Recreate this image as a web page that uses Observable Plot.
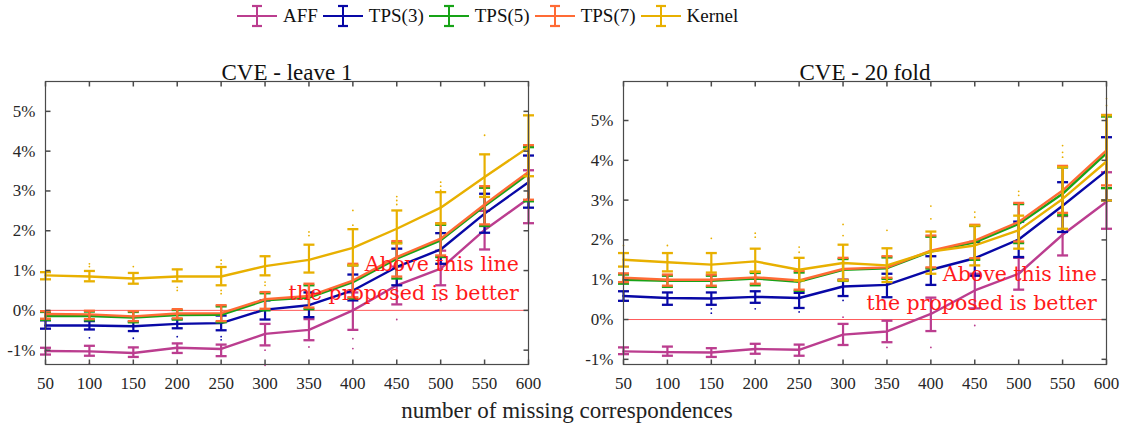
<!DOCTYPE html>
<html>
<head>
<meta charset="utf-8">
<script src="https://cdn.jsdelivr.net/npm/d3@7"></script>
<script src="https://cdn.jsdelivr.net/npm/@observablehq/plot@0.6"></script>
<style>
  body { margin: 0; background: #fff; }
  #chart { position: relative; width: 1128px; height: 434px; font-family: "Liberation Serif", "Times New Roman", serif; color: #111; overflow: hidden; background: #fff; }
  #chart svg { font-family: "Liberation Serif", "Times New Roman", serif; }
  #legend { position: absolute; left: 237px; top: 4px; display: flex; align-items: center; height: 24px; z-index: 2; }
  #legend .item { display: flex; align-items: center; margin-right: 5px; }
  #legend svg { display: block; margin-right: 6px; }
  #legend span { font-size: 19px; line-height: 24px; }
  .panel { position: absolute; top: 0; }
  #xlabel { position: absolute; left: 0; width: 1134px; top: 398px; text-align: center; font-size: 23px; line-height: 26px; color: #222; z-index: 2; }
</style>
</head>
<body>
<div id="chart">
  <div id="legend"></div>
  <div class="panel" id="left" style="left:0px"></div>
  <div class="panel" id="right" style="left:578px"></div>
  <div id="xlabel">number of missing correspondences</div>
</div>
<script>
// Number of missing correspondences (x axis)
const missing = [50, 100, 150, 200, 250, 300, 350, 400, 450, 500, 550, 600];
const seriesNames = ["AFF", "TPS(3)", "TPS(5)", "TPS(7)", "Kernel"];
const seriesColors = ["#bb3d8f", "#0808a6", "#17a317", "#ff6b35", "#e8b000"];
const yTicks = [-1, 0, 1, 2, 3, 4, 5];

// CVE - leave 1: central value and whisker ends (percent)
const leave1AFF    = [-1.02, -1.03, -1.07, -0.94, -0.97, -0.59, -0.49, 0.00, 0.63, 1.05, 2.02, 2.81];
const leave1AFFLo  = [-1.11, -1.14, -1.17, -1.07, -1.15, -0.88, -0.75, -0.49, 0.15, 0.63, 1.53, 2.19];
const leave1AFFHi  = [-0.94, -0.89, -0.93, -0.83, -0.86, -0.34, -0.22, 0.45, 1.10, 1.50, 2.50, 3.52];
const leave1TPS3   = [-0.38, -0.38, -0.40, -0.34, -0.32, 0.02, 0.13, 0.50, 1.09, 1.53, 2.43, 3.22];
const leave1TPS3Lo = [-0.46, -0.48, -0.52, -0.45, -0.50, -0.23, -0.17, 0.25, 0.63, 1.17, 1.95, 2.58];
const leave1TPS3Hi = [-0.25, -0.27, -0.28, -0.22, -0.13, 0.25, 0.45, 0.90, 1.55, 1.94, 2.93, 3.89];
const leave1TPS5   = [-0.14, -0.14, -0.18, -0.12, -0.11, 0.25, 0.32, 0.71, 1.30, 1.76, 2.62, 3.43];
const leave1TPS5Lo = [-0.24, -0.25, -0.30, -0.23, -0.30, 0.00, 0.03, 0.30, 0.80, 1.34, 2.12, 2.74];
const leave1TPS5Hi = [-0.04, -0.03, -0.04, 0.01, 0.10, 0.43, 0.63, 1.13, 1.70, 2.15, 3.08, 4.10];
const leave1TPS7   = [-0.09, -0.10, -0.15, -0.08, -0.07, 0.28, 0.36, 0.75, 1.34, 1.80, 2.66, 3.48];
const leave1TPS7Lo = [-0.21, -0.22, -0.27, -0.20, -0.27, 0.04, 0.07, 0.33, 0.85, 1.38, 2.16, 2.78];
const leave1TPS7Hi = [-0.02, -0.01, -0.02, 0.03, 0.13, 0.46, 0.67, 1.17, 1.74, 2.19, 3.12, 4.15];
const leave1Kernel   = [0.88, 0.85, 0.80, 0.85, 0.85, 1.11, 1.27, 1.57, 2.05, 2.58, 3.35, 4.10];
const leave1KernelLo = [0.78, 0.73, 0.67, 0.73, 0.63, 0.88, 0.95, 1.13, 1.68, 2.18, 2.85, 3.37];
const leave1KernelHi = [0.96, 0.99, 0.94, 1.03, 1.09, 1.36, 1.65, 2.04, 2.51, 2.97, 3.92, 4.90];

// CVE - leave 1: outlying runs
const leave1OutX      = [100, 100, 150, 200, 200, 250, 250, 250, 250, 300, 300, 350, 350, 400, 400, 450, 450, 450, 500, 500, 500, 550,
                         100, 150, 200, 250, 250, 100, 300, 300, 350, 400, 400, 450, 500];
const leave1OutY      = [1.17, 1.10, 1.10, 0.58, 0.50, 1.26, 1.17, 0.50, 0.42, 0.71, 0.63, 1.97, 1.88, 2.51, 2.14, 2.86, 2.76, 2.66, 3.22, 3.12, 3.02, 4.40,
                         -0.69, -0.70, -0.66, -0.66, -0.74, -1.34, -1.00, -1.38, -0.92, -0.71, -0.96, -0.23, 0.25];
const leave1OutSeries = ["Kernel", "Kernel", "Kernel", "Kernel", "Kernel", "Kernel", "Kernel", "Kernel", "Kernel", "Kernel", "Kernel", "Kernel", "Kernel", "Kernel", "Kernel", "Kernel", "Kernel", "Kernel", "Kernel", "Kernel", "Kernel", "Kernel",
                         "TPS(3)", "TPS(3)", "TPS(3)", "TPS(3)", "TPS(3)", "AFF", "AFF", "AFF", "AFF", "AFF", "AFF", "AFF", "AFF"];

// CVE - 20 fold: central value and whisker ends (percent)
const fold20AFF    = [-0.80, -0.82, -0.83, -0.74, -0.76, -0.38, -0.30, 0.14, 0.73, 1.15, 2.13, 2.96];
const fold20AFFLo  = [-0.87, -0.91, -0.94, -0.86, -0.91, -0.64, -0.57, -0.29, 0.28, 0.75, 1.61, 2.28];
const fold20AFFHi  = [-0.70, -0.68, -0.72, -0.61, -0.63, -0.11, -0.03, 0.55, 1.15, 1.55, 2.60, 3.70];
const fold20TPS3   = [0.59, 0.54, 0.53, 0.57, 0.54, 0.83, 0.87, 1.25, 1.54, 2.01, 2.86, 3.74];
const fold20TPS3Lo = [0.47, 0.37, 0.37, 0.42, 0.29, 0.59, 0.56, 0.87, 1.10, 1.57, 2.20, 2.99];
const fold20TPS3Hi = [0.71, 0.68, 0.68, 0.71, 0.67, 1.00, 1.15, 1.59, 1.95, 2.46, 3.45, 4.58];
const fold20TPS5   = [1.00, 0.97, 0.97, 1.03, 0.95, 1.25, 1.29, 1.71, 1.94, 2.40, 3.16, 4.18];
const fold20TPS5Lo = [0.90, 0.82, 0.82, 0.86, 0.72, 0.97, 1.02, 1.28, 1.50, 1.92, 2.62, 3.30];
const fold20TPS5Hi = [1.13, 1.10, 1.10, 1.17, 1.18, 1.52, 1.56, 2.08, 2.35, 2.90, 3.82, 5.10];
const fold20TPS7   = [1.05, 1.00, 1.00, 1.06, 0.98, 1.27, 1.31, 1.73, 1.98, 2.45, 3.24, 4.25];
const fold20TPS7Lo = [0.94, 0.85, 0.85, 0.90, 0.75, 1.00, 1.05, 1.31, 1.54, 1.96, 2.68, 3.37];
const fold20TPS7Hi = [1.16, 1.13, 1.13, 1.20, 1.22, 1.55, 1.59, 2.11, 2.38, 2.93, 3.86, 5.14];
const fold20Kernel   = [1.50, 1.44, 1.38, 1.46, 1.25, 1.42, 1.36, 1.71, 1.86, 2.24, 3.03, 3.97];
const fold20KernelLo = [1.33, 1.21, 1.18, 1.20, 0.98, 0.98, 0.94, 1.15, 1.36, 1.78, 2.28, 2.99];
const fold20KernelHi = [1.67, 1.67, 1.67, 1.78, 1.55, 1.88, 1.79, 2.21, 2.36, 2.61, 3.83, 5.13];

// CVE - 20 fold: outlying runs
const fold20OutX      = [50, 100, 150, 200, 200, 250, 250, 300, 300, 350, 400, 400, 450, 450, 500, 500, 550, 550, 550, 600, 600,
                         150, 150, 200, 250, 300, 300, 350, 400, 450];
const fold20OutY      = [1.86, 1.86, 2.04, 2.17, 2.07, 1.82, 1.69, 2.39, 2.11, 2.24, 2.85, 2.53, 2.70, 2.57, 3.22, 3.12, 4.37, 4.20, 4.08, 5.55, 5.38,
                         0.27, 0.16, 0.27, 0.19, 0.48, 0.06, -0.70, -0.70, -0.15];
const fold20OutSeries = ["Kernel", "Kernel", "Kernel", "Kernel", "Kernel", "Kernel", "Kernel", "Kernel", "Kernel", "Kernel", "Kernel", "Kernel", "Kernel", "Kernel", "Kernel", "Kernel", "Kernel", "Kernel", "Kernel", "Kernel", "Kernel",
                         "TPS(3)", "TPS(3)", "TPS(3)", "TPS(3)", "TPS(3)", "AFF", "AFF", "AFF", "AFF"];

// Build tidy rows for one panel from the per-series arrays
function rows(list) {
  return list.flatMap(([name, mid, lo, hi]) =>
    missing.map((m, i) => ({missing: m, series: name, mid: mid[i], lo: lo[i], hi: hi[i]})));
}
function outRows(xs, ys, ss) {
  return xs.map((x, i) => ({missing: x, value: ys[i], series: ss[i]}));
}

const leave1Rows = rows([
  ["AFF", leave1AFF, leave1AFFLo, leave1AFFHi],
  ["TPS(3)", leave1TPS3, leave1TPS3Lo, leave1TPS3Hi],
  ["TPS(5)", leave1TPS5, leave1TPS5Lo, leave1TPS5Hi],
  ["TPS(7)", leave1TPS7, leave1TPS7Lo, leave1TPS7Hi],
  ["Kernel", leave1Kernel, leave1KernelLo, leave1KernelHi]
]);
const fold20Rows = rows([
  ["AFF", fold20AFF, fold20AFFLo, fold20AFFHi],
  ["TPS(3)", fold20TPS3, fold20TPS3Lo, fold20TPS3Hi],
  ["TPS(5)", fold20TPS5, fold20TPS5Lo, fold20TPS5Hi],
  ["TPS(7)", fold20TPS7, fold20TPS7Lo, fold20TPS7Hi],
  ["Kernel", fold20Kernel, fold20KernelLo, fold20KernelHi]
]);

// Symbols: short horizontal cap, and inward-pointing frame ticks
const capSymbol = {draw(ctx, size) { const w = Math.sqrt(size / Math.PI); ctx.moveTo(-w, 0); ctx.lineTo(w, 0); }};
const tickRight = {draw(ctx) { ctx.moveTo(0, 0); ctx.lineTo(5, 0); }};
const tickLeft  = {draw(ctx) { ctx.moveTo(0, 0); ctx.lineTo(-5, 0); }};
const tickDown  = {draw(ctx) { ctx.moveTo(0, 0); ctx.lineTo(0, 5); }};
const tickUp    = {draw(ctx) { ctx.moveTo(0, 0); ctx.lineTo(0, -5); }};

const axisColor = "#4a4a4a";
const annotation = "Above this line\nthe proposed is better";

function panel({title, data, outliers, yDomain, width, marginRight, noteY}) {
  const seriesMarks = seriesNames.flatMap((name) => {
    const d = data.filter((r) => r.series === name);
    return [
      Plot.ruleX(d, {x: "missing", y1: "lo", y2: "hi", stroke: "series", strokeWidth: 2.2}),
      Plot.dot(d, {x: "missing", y: "lo", symbol: capSymbol, r: 5.5, stroke: "series", strokeWidth: 2.3}),
      Plot.dot(d, {x: "missing", y: "hi", symbol: capSymbol, r: 5.5, stroke: "series", strokeWidth: 2.3}),
      Plot.line(d, {x: "missing", y: "mid", stroke: "series", strokeWidth: 2.4})
    ];
  });
  return Plot.plot({
    width, height: 434,
    marginTop: 81, marginBottom: 70, marginLeft: 45, marginRight,
    x: {domain: [50, 600], label: null},
    y: {domain: yDomain, label: null},
    color: {domain: seriesNames, range: seriesColors},
    style: {fontFamily: "'Liberation Serif', serif", fontSize: "17px", color: "#262626", background: "transparent", overflow: "visible"},
    marks: [
      Plot.ruleY([0], {stroke: "#ff5a5a", strokeWidth: 1}),
      Plot.dot(outliers, {x: "missing", y: "value", fill: "series", r: 0.9}),
      ...seriesMarks,
      Plot.text([annotation], {x: 589, y: noteY, text: (d) => d, textAnchor: "end", lineAnchor: "middle", lineHeight: 1.37,
        fill: "#ff1a1a", fontSize: 20.5, fontFamily: "'DejaVu Serif', serif"}),
      Plot.axisX({ticks: missing, tickSize: 0, tickPadding: 12, fontSize: 17, label: null}),
      Plot.axisY({ticks: yTicks, tickSize: 0, tickPadding: 10, tickFormat: (d) => d + "%", fontSize: 17, label: null}),
      Plot.dot(missing, {x: (d) => d, frameAnchor: "top", symbol: tickDown, r: 3, stroke: axisColor}),
      Plot.dot(missing, {x: (d) => d, frameAnchor: "bottom", symbol: tickUp, r: 3, stroke: axisColor}),
      Plot.dot(yTicks, {y: (d) => d, frameAnchor: "left", symbol: tickRight, r: 3, stroke: axisColor}),
      Plot.dot(yTicks, {y: (d) => d, frameAnchor: "right", symbol: tickLeft, r: 3, stroke: axisColor}),
      Plot.frame({stroke: axisColor, strokeWidth: 1.2}),
      Plot.text([title], {frameAnchor: "top", dy: -2, lineAnchor: "bottom", fontSize: 23, fill: "#111"})
    ]
  });
}

document.getElementById("left").append(panel({
  title: "CVE - leave 1", data: leave1Rows, outliers: outRows(leave1OutX, leave1OutY, leave1OutSeries),
  yDomain: [-1.36, 5.75], width: 540, marginRight: 12, noteY: 0.85
}));
document.getElementById("right").append(panel({
  title: "CVE - 20 fold", data: fold20Rows, outliers: outRows(fold20OutX, fold20OutY, fold20OutSeries),
  yDomain: [-1.13, 5.98], width: 550, marginRight: 22, noteY: 0.83
}));

// Legend: line with an error-bar glyph, then the series name
const legend = document.getElementById("legend");
seriesNames.forEach((name, i) => {
  const item = document.createElement("div");
  item.className = "item";
  const c = seriesColors[i];
  item.innerHTML =
    `<svg width="40" height="24" viewBox="0 0 40 24">
       <line x1="0" x2="40" y1="12" y2="12" stroke="${c}" stroke-width="2.2"/>
       <line x1="20" x2="20" y1="2" y2="22" stroke="${c}" stroke-width="2"/>
       <line x1="15" x2="25" y1="2" y2="2" stroke="${c}" stroke-width="2.2"/>
       <line x1="15" x2="25" y1="22" y2="22" stroke="${c}" stroke-width="2.2"/>
     </svg><span>${name}</span>`;
  legend.append(item);
});
</script>
</body>
</html>
